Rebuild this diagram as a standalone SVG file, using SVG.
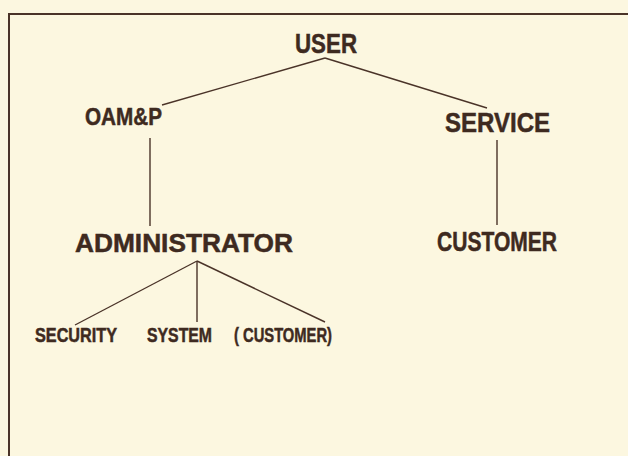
<svg xmlns="http://www.w3.org/2000/svg" width="628" height="456" viewBox="0 0 628 456">
<style>
.bg{fill:#fcf7e0}
.frame{fill:none;stroke:#4a3328;stroke-width:2}
.edge{fill:none;stroke:#4a3328;stroke-width:1.4}
.lbl{font-family:"Liberation Sans",Arial,sans-serif;font-weight:bold;fill:#3e2a20;stroke:#3e2a20;stroke-width:0.5}
</style>
<rect class="bg" x="0" y="0" width="628" height="456"/>
<path class="frame" d="M9,456 V14 H628"/>
<g id="connectors">
<line class="edge" x1="325" y1="58" x2="162" y2="105"/>
<line class="edge" x1="325" y1="58" x2="487" y2="108"/>
<line class="edge" x1="150" y1="138" x2="150" y2="226"/>
<line class="edge" x1="497" y1="140" x2="497" y2="225"/>
<line class="edge" x1="197" y1="261" x2="75" y2="325"/>
<line class="edge" x1="197" y1="261" x2="197" y2="322"/>
<line class="edge" x1="197" y1="261" x2="325" y2="322"/>
</g>
<g id="user"><text class="lbl" x="295" y="53" font-size="28" textLength="62" lengthAdjust="spacingAndGlyphs">USER</text></g>
<g id="oamp"><text class="lbl" x="85" y="125" font-size="24" textLength="77" lengthAdjust="spacingAndGlyphs">OAM&amp;P</text></g>
<g id="service"><text class="lbl" x="445" y="132" font-size="27" textLength="105" lengthAdjust="spacingAndGlyphs">SERVICE</text></g>
<g id="administrator"><text class="lbl" x="75" y="252" font-size="26" textLength="218" lengthAdjust="spacingAndGlyphs">ADMINISTRATOR</text></g>
<g id="customer"><text class="lbl" x="437" y="251" font-size="27" textLength="120" lengthAdjust="spacingAndGlyphs">CUSTOMER</text></g>
<g id="security"><text class="lbl" x="35" y="342" font-size="20" textLength="82" lengthAdjust="spacingAndGlyphs">SECURITY</text></g>
<g id="system"><text class="lbl" x="147" y="342" font-size="20" textLength="65" lengthAdjust="spacingAndGlyphs">SYSTEM</text></g>
<g id="customer-sub"><text class="lbl" x="234" y="342" font-size="20" textLength="98" lengthAdjust="spacingAndGlyphs">( CUSTOMER)</text></g>
</svg>
